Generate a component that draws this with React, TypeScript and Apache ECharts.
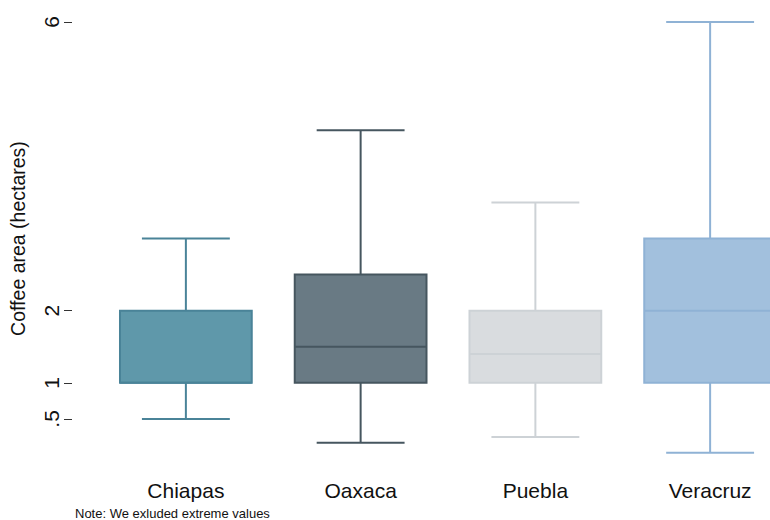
import React, { useEffect, useRef } from "react";
import * as echarts from "echarts";

const CATEGORIES = ["Chiapas", "Oaxaca", "Puebla", "Veracruz"];
// [min, Q1, median, Q3, max]
const MINS = [0.5, 0.17, 0.25, 0.03];
const Q1S = [1, 1, 1, 1];
const MEDIANS = [1, 1.5, 1.4, 2];
const Q3S = [2, 2.5, 2, 3];
const MAXS = [3, 4.5, 3.5, 6];
const Y_TICKS = [0.5, 1, 2, 6];

const FILLS = ["#5f98aa", "#697a84", "#d9dcdf", "#a2c0dd"];
const STROKES = ["#4a8398", "#46565f", "#cdd2d6", "#8fb2d5"];

const FONT = "Liberation Sans, Arial, sans-serif";

export default function App() {
  const ref = useRef<HTMLDivElement>(null);
  useEffect(() => {
    if (!ref.current) return;
    const chart = echarts.init(ref.current, null, { renderer: "svg" });
    const data = CATEGORIES.map((_, i) => [i, MINS[i], Q1S[i], MEDIANS[i], Q3S[i], MAXS[i]]);
    chart.setOption({
      animation: false,
      backgroundColor: "#ffffff",
      textStyle: { fontFamily: FONT },
      grid: { left: 97.5, width: 700, top: 22, bottom: 65, containLabel: false },
      xAxis: {
        type: "category",
        data: CATEGORIES,
        boundaryGap: true,
        axisLine: { show: false },
        axisTick: { show: false },
        splitLine: { show: false },
        axisLabel: { color: "#111", fontSize: 21, margin: 25, fontFamily: FONT },
      },
      yAxis: {
        type: "value",
        min: 0,
        max: 6,
        offset: 26.5,
        axisLine: { show: false },
        splitLine: { show: false },
        axisTick: {
          show: true,
          length: 8,
          customValues: Y_TICKS,
          lineStyle: { color: "#333", width: 1 },
        },
        axisLabel: {
          customValues: Y_TICKS,
          rotate: 90,
          margin: 10,
          fontSize: 21,
          color: "#111",
          fontFamily: FONT,
          formatter: (v: number) => (v < 1 ? String(v).replace(/^0/, "") : String(v)),
        },
        name: "Coffee area (hectares)",
        nameLocation: "middle",
        nameGap: 44,
        nameTextStyle: { fontSize: 19.5, color: "#111", fontFamily: FONT },
      },
      series: [
        {
          type: "custom",
          data,
          encode: { x: 0, y: [1, 2, 3, 4, 5] },
          renderItem: (params: any, api: any) => {
            const i = params.dataIndex;
            const idx = api.value(0);
            const pt = (v: number) => api.coord([idx, v]);
            const [cx, yMin] = pt(api.value(1));
            const yQ1 = pt(api.value(2))[1];
            const yMed = pt(api.value(3))[1];
            const yQ3 = pt(api.value(4))[1];
            const yMax = pt(api.value(5))[1];
            const band = api.size([1, 0])[0];
            const bw = band * 0.754;
            const cw = band * 0.503;
            const stroke = STROKES[i];
            const ls = { stroke, lineWidth: 2 };
            return {
              type: "group",
              children: [
                { type: "line", shape: { x1: cx, y1: yMax, x2: cx, y2: yQ3 }, style: ls },
                { type: "line", shape: { x1: cx, y1: yQ1, x2: cx, y2: yMin }, style: ls },
                { type: "line", shape: { x1: cx - cw / 2, y1: yMax, x2: cx + cw / 2, y2: yMax }, style: ls },
                { type: "line", shape: { x1: cx - cw / 2, y1: yMin, x2: cx + cw / 2, y2: yMin }, style: ls },
                {
                  type: "rect",
                  shape: { x: cx - bw / 2, y: yQ3, width: bw, height: yQ1 - yQ3 },
                  style: { fill: FILLS[i], stroke, lineWidth: 2 },
                },
                { type: "line", shape: { x1: cx - bw / 2, y1: yMed, x2: cx + bw / 2, y2: yMed }, style: ls },
              ],
            };
          },
        },
      ],
      graphic: [
        {
          type: "text",
          left: 75,
          top: 507,
          style: { text: "Note: We exluded extreme values", fontSize: 13, fill: "#111", fontFamily: FONT },
        },
      ],
    });
    return () => chart.dispose();
  }, []);
  return (
    <div style={{ position: "fixed", left: 0, top: 0, width: 770, height: 520, overflow: "hidden" }}>
      <div ref={ref} style={{ width: 820, height: 520 }} />
    </div>
  );
}
